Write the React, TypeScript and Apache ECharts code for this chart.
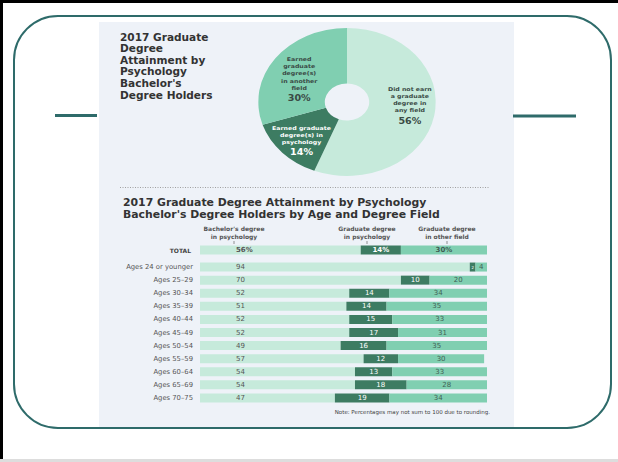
import React, { useEffect, useRef } from "react";
import * as echarts from "echarts";

const pieNames = [
  "Did not earn\na graduate\ndegree in\nany field",
  "Earned graduate\ndegree(s) in\npsychology",
  "Earned\ngraduate\ndegree(s)\nin another\nfield",
];
const pieValues = [56, 14, 30];

const totalLabel = ["TOTAL"];
const totalValues = [56, 14, 30];

const rowLabels = [
  "Ages 24 or younger",
  "Ages 25–29",
  "Ages 30–34",
  "Ages 35–39",
  "Ages 40–44",
  "Ages 45–49",
  "Ages 50–54",
  "Ages 55–59",
  "Ages 60–64",
  "Ages 65–69",
  "Ages 70–75",
];
const bachelorPsych = [94, 70, 52, 51, 52, 52, 49, 57, 54, 54, 47];
const gradPsych = [2, 10, 14, 14, 15, 17, 16, 12, 13, 18, 19];
const gradOther = [4, 20, 34, 35, 33, 31, 35, 30, 33, 28, 34];

const headers = [
  "Bachelor's degree\nin psychology",
  "Graduate degree\nin psychology",
  "Graduate degree\nin other field",
];

const LIGHT = "#c6eadb";
const DARK = "#3d7c62";
const MID = "#80cfb1";
const TEAL = "#2e6b6a";
const FONT = "DejaVu Sans";

export default function App() {
  const mainRef = useRef<HTMLDivElement>(null);
  const pieRef = useRef<HTMLDivElement>(null);

  useEffect(() => {
    const main = echarts.init(mainRef.current!, null, { renderer: "svg" });
    const pie = echarts.init(pieRef.current!, null, { renderer: "svg" });

    const headerX = [234, 367, 447];

    const graphic: any[] = [
      { type: "rect", shape: { x: 0, y: 0, width: 618, height: 462 }, style: { fill: "#ffffff" } },
      { type: "rect", shape: { x: 99, y: 22, width: 415, height: 406 }, style: { fill: "#eef2f8" } },
      { type: "rect", shape: { x: 0, y: 0, width: 3, height: 461 }, style: { fill: "#000" } },
      { type: "rect", shape: { x: 0, y: 0, width: 618, height: 3 }, style: { fill: "#000" } },
      { type: "rect", shape: { x: 0, y: 459, width: 618, height: 3 }, style: { fill: "#dddddd" } },
      {
        type: "rect",
        shape: { x: 14, y: 16, width: 597, height: 412, r: 44 },
        style: { fill: "none", stroke: TEAL, lineWidth: 2 },
      },
      { type: "rect", shape: { x: 55, y: 114, width: 42, height: 3 }, style: { fill: TEAL } },
      { type: "rect", shape: { x: 513, y: 114.5, width: 63, height: 3 }, style: { fill: TEAL } },
      {
        type: "text",
        x: 120,
        y: 31.5,
        scaleX: 1.1,
        style: {
          text: "2017 Graduate\nDegree\nAttainment by\nPsychology\nBachelor's\nDegree Holders",
          fontFamily: FONT,
          fontWeight: "bold",
          fontSize: 9.6,
          lineHeight: 11.6,
          fill: "#333333",
          verticalAlign: "top",
        },
      },
      {
        type: "line",
        shape: { x1: 120, y1: 187.5, x2: 490, y2: 187.5 },
        style: { stroke: "#a0a0a0", lineWidth: 1, lineDash: [1, 1.5] },
      },
      {
        type: "text",
        x: 123,
        y: 196,
        scaleX: 1.045,
        style: {
          text: "2017 Graduate Degree Attainment by Psychology\nBachelor's Degree Holders by Age and Degree Field",
          fontFamily: FONT,
          fontWeight: "bold",
          fontSize: 10.4,
          lineHeight: 12.4,
          fill: "#333333",
          verticalAlign: "top",
        },
      },
      {
        type: "text",
        x: 490,
        y: 412,
        style: {
          text: "Note: Percentages may not sum to 100 due to rounding.",
          fontFamily: FONT,
          fontSize: 5.5,
          fill: "#444444",
          align: "right",
          verticalAlign: "middle",
        },
      },
    ];
    headers.forEach((h, i) => {
      graphic.push({
        type: "text",
        x: headerX[i],
        y: 224,
        style: {
          text: h,
          fontFamily: FONT,
          fontWeight: "bold",
          fontSize: 6,
          lineHeight: 8,
          fill: "#555555",
          align: "center",
          verticalAlign: "top",
        },
      });
      graphic.push({
        type: "line",
        shape: { x1: headerX[i], y1: 241, x2: headerX[i], y2: 244 },
        style: { stroke: "#777", lineWidth: 0.8 },
      });
    });

    const lightLabel = (suffix: string, bold: boolean) => ({
      show: true,
      position: "insideLeft",
      distance: 36,
      fontFamily: FONT,
      fontSize: 7,
      fontWeight: bold ? "bold" : "normal",
      color: "#555555",
      formatter: (p: any) => `${p.value}${suffix}`,
    });
    const darkLabel = (suffix: string, bold: boolean) => ({
      show: true,
      position: "inside",
      fontFamily: FONT,
      fontSize: 7,
      fontWeight: bold ? "bold" : "normal",
      color: "#ffffff",
      formatter: (p: any) => `${p.value}${suffix}`,
    });
    const midLabel = (suffix: string, bold: boolean) => ({
      show: true,
      position: "inside",
      fontFamily: FONT,
      fontSize: 7,
      fontWeight: bold ? "bold" : "normal",
      color: "#3f5f55",
      formatter: (p: any) => `${p.value}${suffix}`,
    });

    const gradPsychData = gradPsych.map((v) =>
      v < 4 ? { value: v, label: { fontSize: 4 } } : v
    );

    main.setOption({
      animation: false,
      graphic,
      grid: [
        { left: 200, width: 287, top: 243.5, height: 13 },
        { left: 200, width: 287, top: 260.5, height: 144 },
      ],
      xAxis: [
        { type: "value", gridIndex: 0, min: 0, max: 100, show: false },
        { type: "value", gridIndex: 1, min: 0, max: 100, show: false },
      ],
      yAxis: [
        {
          type: "category",
          gridIndex: 0,
          data: totalLabel,
          inverse: true,
          axisLine: { show: false },
          axisTick: { show: false },
          axisLabel: {
            margin: 9,
            fontFamily: FONT,
            fontSize: 6,
            fontWeight: "bold",
            color: "#444444",
          },
        },
        {
          type: "category",
          gridIndex: 1,
          data: rowLabels,
          inverse: true,
          axisLine: { show: false },
          axisTick: { show: false },
          axisLabel: { margin: 7, fontFamily: FONT, fontSize: 6.8, color: "#555555" },
        },
      ],
      series: [
        {
          type: "bar",
          xAxisIndex: 0,
          yAxisIndex: 0,
          stack: "t",
          barWidth: 9,
          data: [totalValues[0]],
          itemStyle: { color: LIGHT },
          label: lightLabel("%", true),
          silent: true,
        },
        {
          type: "bar",
          xAxisIndex: 0,
          yAxisIndex: 0,
          stack: "t",
          barWidth: 9,
          data: [totalValues[1]],
          itemStyle: { color: DARK },
          label: darkLabel("%", true),
          silent: true,
        },
        {
          type: "bar",
          xAxisIndex: 0,
          yAxisIndex: 0,
          stack: "t",
          barWidth: 9,
          data: [totalValues[2]],
          itemStyle: { color: MID },
          label: midLabel("%", true),
          silent: true,
        },
        {
          type: "bar",
          xAxisIndex: 1,
          yAxisIndex: 1,
          stack: "a",
          barWidth: 9,
          data: bachelorPsych,
          itemStyle: { color: LIGHT },
          label: lightLabel("", false),
          silent: true,
        },
        {
          type: "bar",
          xAxisIndex: 1,
          yAxisIndex: 1,
          stack: "a",
          barWidth: 9,
          data: gradPsychData,
          itemStyle: { color: DARK },
          label: darkLabel("", false),
          silent: true,
        },
        {
          type: "bar",
          xAxisIndex: 1,
          yAxisIndex: 1,
          stack: "a",
          barWidth: 9,
          data: gradOther,
          itemStyle: { color: MID },
          label: midLabel("", false),
          silent: true,
        },
      ],
    });

    const pieOffsets = [
      [4, -5],
      [-2, 6],
      [0, 7],
    ];

    pie.setOption({
      animation: false,
      series: [
        {
          type: "pie",
          radius: ["25%", "100%"],
          center: ["50%", "50%"],
          startAngle: 90,
          clockwise: true,
          silent: true,
          labelLine: { show: false },
          data: pieNames.map((n, i) => ({
            name: n,
            value: pieValues[i],
            itemStyle: { color: [LIGHT, DARK, MID][i] },
            label: { offset: pieOffsets[i] },
          })),
          label: {
            show: true,
            position: "inside",
            formatter: (p: any) =>
              p.dataIndex === 1
                ? `{nw|${p.name}}\n{pw|${p.value}%}`
                : `{n|${p.name}}\n{p|${p.value}%}`,
            rich: {
              n: { fontFamily: FONT, fontSize: 5.2, fontWeight: "bold", lineHeight: 7.3, color: "#3a4a45", align: "center" },
              p: { fontFamily: FONT, fontSize: 8, fontWeight: "bold", lineHeight: 13, color: "#3a4a45", align: "center" },
              nw: { fontFamily: FONT, fontSize: 5.2, fontWeight: "bold", lineHeight: 7.3, color: "#ffffff", align: "center" },
              pw: { fontFamily: FONT, fontSize: 8, fontWeight: "bold", lineHeight: 13, color: "#ffffff", align: "center" },
            },
          },
        },
      ],
    });

    return () => {
      main.dispose();
      pie.dispose();
    };
  }, []);

  return (
    <div style={{ position: "fixed", left: 0, top: 0, width: 618, height: 462, background: "#fff" }}>
      <div ref={mainRef} style={{ position: "absolute", left: 0, top: 0, width: 618, height: 462 }} />
      <div
        ref={pieRef}
        style={{
          position: "absolute",
          left: 273,
          top: 28,
          width: 148,
          height: 148,
          transform: "scaleX(1.2)",
          transformOrigin: "center center",
        }}
      />
    </div>
  );
}
